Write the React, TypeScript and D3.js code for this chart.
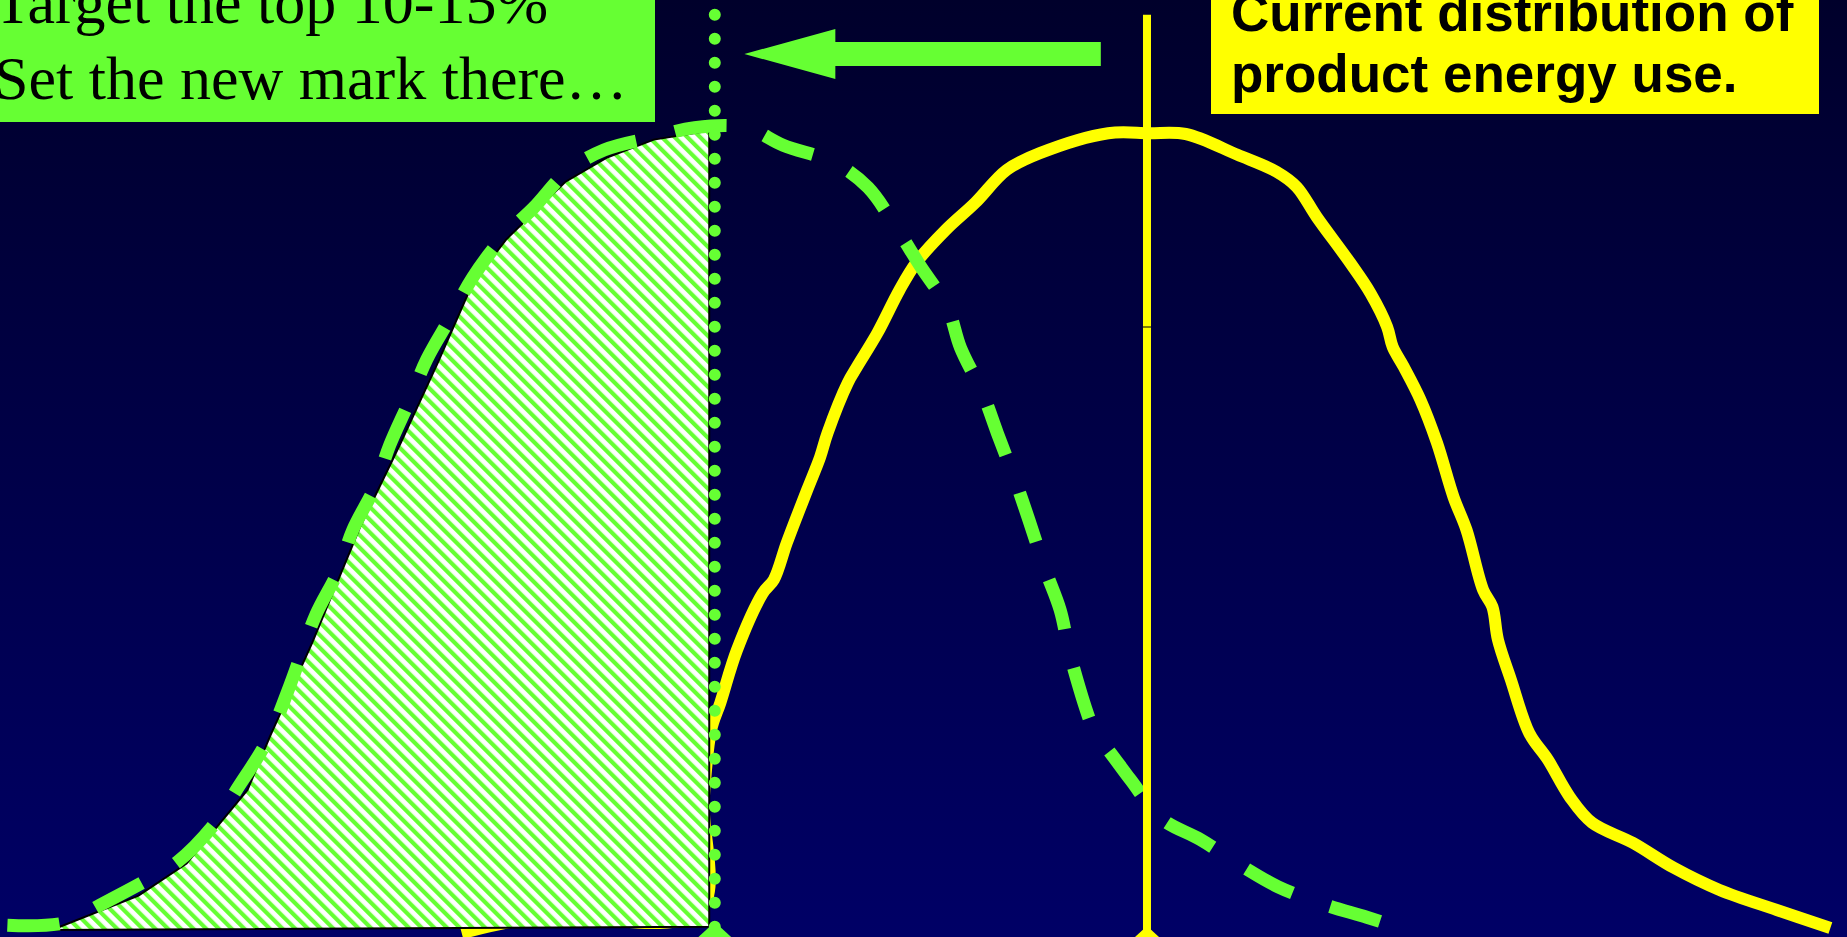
import React from "react";
import * as d3 from "d3";

// ---- data (energy-use index on x, share of products on y, both 0..100) ----
const currentEnergy = [25.0, 29.2, 37.9, 38.1, 38.5, 39.0, 39.9, 41.3, 41.9, 42.6, 43.7, 44.4, 44.8, 45.9, 46.4, 47.5, 48.7, 49.6, 51.2, 52.8, 54.5, 56.3, 60.0, 62.2, 64.2, 67.0, 69.1, 70.2, 71.3, 73.1, 74.2, 75.1, 75.4, 76.0, 76.9, 77.8, 78.7, 79.4, 80.3, 80.8, 81.1, 81.8, 82.8, 83.8, 85.0, 86.2, 88.4, 90.6, 93.1, 96.2, 99.1];
const currentShare = [-0.4, 1.6, 2.3, 16.3, 25.0, 28.4, 35.0, 42.1, 43.8, 48.4, 55.0, 59.1, 62.1, 68.4, 70.4, 74.6, 80.0, 83.4, 87.5, 90.9, 95.0, 97.1, 99.6, 99.6, 99.5, 96.9, 94.8, 92.9, 89.1, 83.4, 79.6, 75.4, 72.9, 70.4, 66.3, 60.9, 54.1, 50.0, 42.5, 40.4, 36.3, 31.3, 24.6, 21.3, 16.6, 13.4, 10.9, 7.8, 5.0, 2.5, 0.25];

const targetEnergy = [0.4, 3.5, 5.4, 8.0, 9.6, 11.7, 12.8, 14.5, 15.7, 17.1, 18.3, 19.1, 20.3, 21.1, 22.2, 23.1, 24.4, 25.6, 27.2, 28.9, 30.7, 32.7, 35.4, 37.6, 40.4, 42.4, 45.2, 47.0, 48.6, 49.8, 51.3, 52.0, 53.2, 54.0, 55.0, 55.7, 56.6, 57.4, 58.0, 59.4, 60.0, 61.2, 62.9, 65.0, 67.3, 69.2, 71.8, 74.0, 75.8];
const targetShare = [0.6, 0.9, 3.1, 6.3, 8.5, 13.5, 17.5, 23.8, 30.6, 39.4, 44.8, 50.0, 55.4, 60.6, 66.3, 71.3, 76.6, 81.6, 86.5, 90.3, 94.8, 97.5, 99.1, 100.3, 100.3, 98.1, 95.9, 92.8, 87.5, 83.1, 77.8, 72.8, 67.1, 62.1, 56.0, 51.3, 45.0, 40.0, 33.8, 24.1, 22.5, 18.8, 13.9, 11.3, 7.9, 5.4, 3.1, 1.6, 0.25];

const topEnergy = [2.8, 7.5, 10.1, 13.4, 14.6, 16.9, 19.5, 21.7, 23.7, 25.6, 27.4, 30.6, 32.9, 35.4, 38.4, 38.4];
const topShare = [0, 4.3, 8.3, 17.5, 24.1, 35.9, 50.4, 60.9, 70.9, 80.9, 86.3, 93.5, 96.6, 98.8, 99.9, 0.4];

const newMark = 38.7;
const currentMedian = 62.1;
const markerTop = 114.4;
const arrowFrom = 59.6;
const arrowTo = 40.3;
const arrowLevel = 109.5;

const boxLeftLines = ["Target the top 10-15%", "Set the new mark there…"];
const boxRightLines = ["Current distribution of", "product energy use."];

const W = 1847;
const H = 937;
const GREEN = "#66FF33";
const YELLOW = "#FFFF00";

export default function App() {
  const x = d3.scaleLinear().domain([0, 100]).range([0, W]);
  const y = d3.scaleLinear().domain([0, 100]).range([930, 130]);

  const smooth = d3
    .line<[number, number]>()
    .x((d) => x(d[0]))
    .y((d) => y(d[1]))
    .curve(d3.curveCatmullRom.alpha(0.5));
  const straight = d3
    .line<[number, number]>()
    .x((d) => x(d[0]))
    .y((d) => y(d[1]))
    .curve(d3.curveLinear);

  const current = d3.zip(currentEnergy, currentShare) as [number, number][];
  const target = d3.zip(targetEnergy, targetShare) as [number, number][];
  const top = d3.zip(topEnergy, topShare) as [number, number][];

  const ax = x(arrowTo);
  const bx = x(arrowFrom);
  const ay = y(arrowLevel);
  const headLen = 91;
  const arrowPts = [
    [ax, ay],
    [ax + headLen, ay - 25],
    [ax + headLen, ay - 12],
    [bx, ay - 12],
    [bx, ay + 12],
    [ax + headLen, ay + 12],
    [ax + headLen, ay + 25],
  ]
    .map((p) => p.join(","))
    .join(" ");

  const tri = (cx: number, apex: number) =>
    `${cx},${apex} ${cx + 24},${apex + 22} ${cx - 24},${apex + 22}`;

  return (
    <svg
      width={W}
      height={H}
      style={{ position: "absolute", left: 0, top: 0, display: "block" }}
    >
      <defs>
        <linearGradient id="bg" x1="0" y1="0" x2="0" y2="1">
          <stop offset="0%" stopColor="#00002B" />
          <stop offset="100%" stopColor="#000066" />
        </linearGradient>
        <pattern
          id="hatch"
          patternUnits="userSpaceOnUse"
          width={9}
          height={9}
          patternTransform="rotate(-45)"
        >
          <rect width={9} height={9} fill="#FFFFFF" />
          <rect width={4.2} height={9} fill={GREEN} />
        </pattern>
      </defs>
      <rect width={W} height={H} fill="url(#bg)" />

      {/* current distribution */}
      <path
        d={smooth(current) ?? ""}
        fill="none"
        stroke={YELLOW}
        strokeWidth={12}
        strokeLinejoin="round"
        strokeLinecap="butt"
      />

      {/* top performers area */}
      <path
        d={(straight(top) ?? "") + "Z"}
        fill="url(#hatch)"
        stroke="#000000"
        strokeWidth={2}
        strokeLinejoin="miter"
      />

      {/* target distribution */}
      <path
        d={smooth(target) ?? ""}
        fill="none"
        stroke={GREEN}
        strokeWidth={13}
        strokeDasharray="52 40"
      />

      {/* new mark */}
      <line
        x1={x(newMark)}
        x2={x(newMark)}
        y1={y(markerTop)}
        y2={y(0)}
        stroke={GREEN}
        strokeWidth={12}
        strokeLinecap="round"
        strokeDasharray="0 24"
      />
      <polygon points={tri(x(newMark), 922)} fill={GREEN} />

      {/* current median */}
      <line
        x1={x(currentMedian)}
        x2={x(currentMedian)}
        y1={y(markerTop)}
        y2={y(0)}
        stroke={YELLOW}
        strokeWidth={8}
      />
      <line
        x1={x(currentMedian) - 4}
        x2={x(currentMedian) + 4}
        y1={327}
        y2={327}
        stroke="#000000"
        strokeWidth={1}
      />
      <polygon points={tri(x(currentMedian), 926)} fill={YELLOW} />

      {/* arrow */}
      <polygon points={arrowPts} fill={GREEN} />

      {/* left text box */}
      <rect x={-10} y={-10} width={665} height={132} fill={GREEN} />
      {boxLeftLines.map((t, i) => (
        <text
          key={t}
          x={-6}
          y={23 + i * 76}
          fontFamily="'Liberation Serif', 'Times New Roman', serif"
          fontSize={62}
          fill="#000000"
        >
          {t}
        </text>
      ))}

      {/* right text box */}
      <rect x={1211} y={-10} width={608} height={124} fill={YELLOW} />
      {boxRightLines.map((t, i) => (
        <text
          key={t}
          x={1231}
          y={31 + i * 61}
          fontFamily="'Liberation Sans', Arial, sans-serif"
          fontWeight="bold"
          fontSize={53}
          fill="#000000"
        >
          {t}
        </text>
      ))}
    </svg>
  );
}
